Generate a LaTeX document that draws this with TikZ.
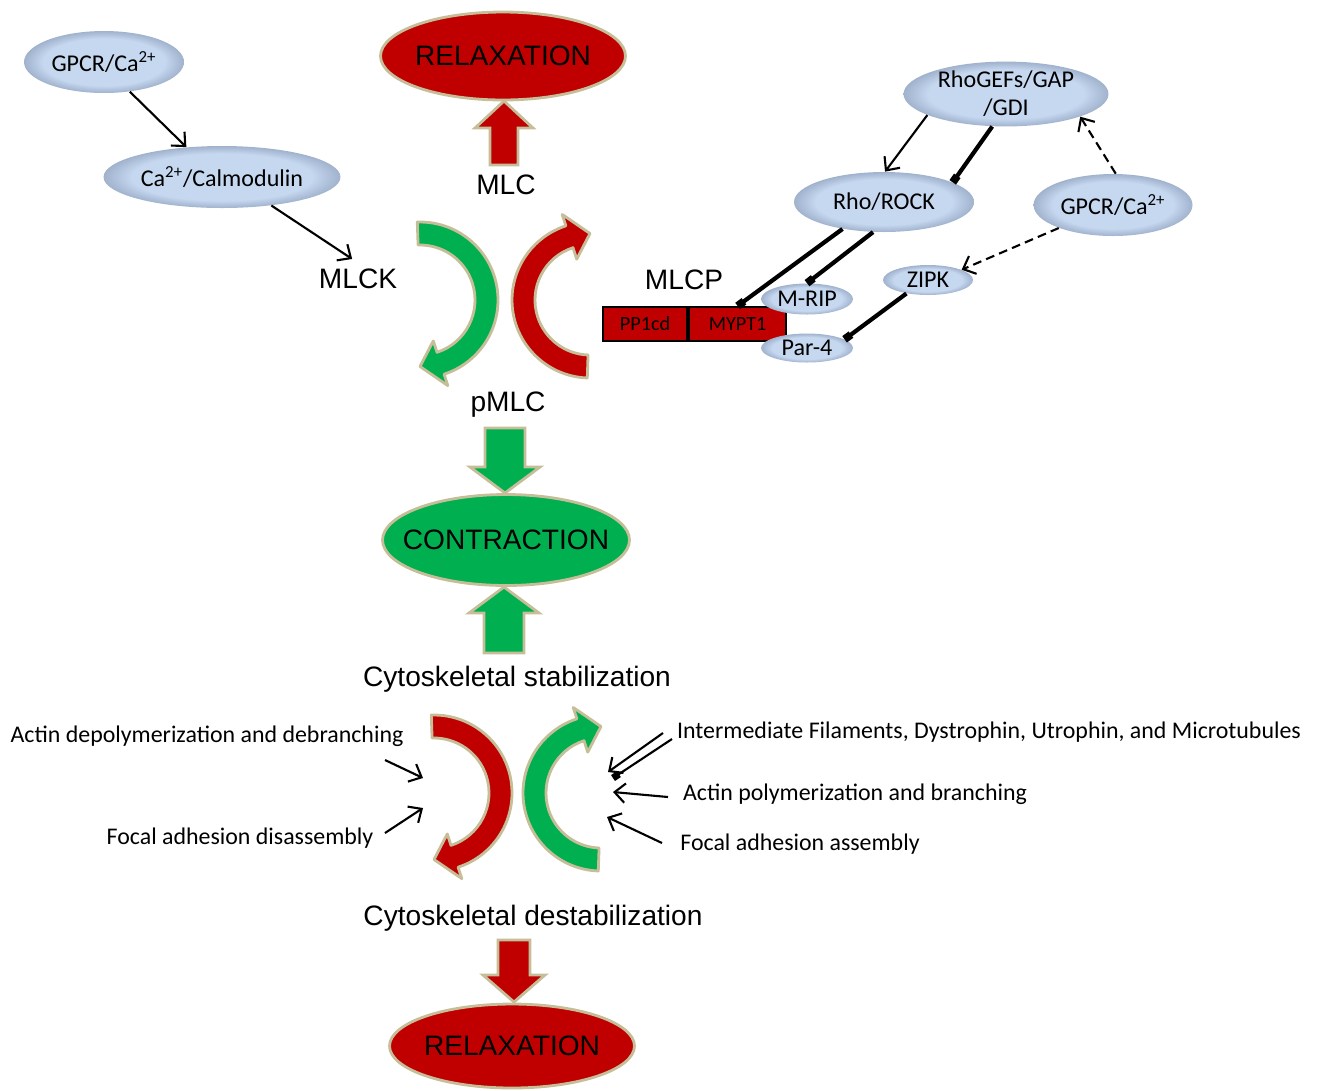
\documentclass[tikz,border=0pt]{standalone}
\usepackage{fontspec}
\usetikzlibrary{shapes.geometric,arrows.meta}
\newfontfamily\arialfont{Liberation Sans}
\newfontfamily\calfont{Carlito}
\definecolor{relax}{RGB}{192,0,0}
\definecolor{contract}{RGB}{0,176,80}
\definecolor{rim}{RGB}{198,190,153}
\definecolor{mol}{RGB}{198,216,240}
\definecolor{moledge}{RGB}{160,178,204}
\pgfdeclareradialshading{molshade}{\pgfpointorigin}{color(0bp)=(mol); color(19bp)=(mol); color(25bp)=(moledge); color(50bp)=(moledge)}
% curved block arrow: centre x, centre y, start angle, head angle, tip angle, colour
\newcommand{\curvedarrow}[6]{
  \filldraw[fill=#6, draw=rim, line width=1.6pt, line join=round]
    ([shift={(#1,#2)}]#3:78) arc[start angle=#3, end angle=#4, radius=78]
    -- ([shift={(#1,#2)}]#4:90) -- ([shift={(#1,#2)}]#5:66.5)
    -- ([shift={(#1,#2)}]#4:43) -- ([shift={(#1,#2)}]#4:55)
    arc[start angle=#4, end angle=#3, radius=55] -- cycle;
}
% straight block arrow: x, tail y, head base y, tip y, half shaft width, colour
\newcommand{\blockarrow}[6]{
  \filldraw[fill=#6, draw=rim, line width=1.6pt]
    ({#1-#5},#2) -- ({#1-#5},#3) -- ({#1-#5-15},#3) -- (#1,#4)
    -- ({#1+#5+15},#3) -- ({#1+#5},#3) -- ({#1+#5},#2) -- cycle;
}
\newcommand{\outcometext}[1]{\makebox[0pt]{#1}}

\begin{document}
\begin{tikzpicture}[x=0.02cm,y=0.02cm,
  outcome/.style={ellipse, draw=rim, line width=1.6pt, inner sep=0pt, font=\arialfont\fontsize{16}{18}\selectfont},
  mol/.style={ellipse, shade, shading=molshade, inner sep=0pt, align=center, font=\calfont\fontsize{13.7}{16}\selectfont},
  lbl/.style={font=\arialfont\fontsize{16}{18}\selectfont},
  note/.style={font=\calfont\fontsize{13.6}{16}\selectfont},
  subunit/.style={draw, fill=relax, line width=1.2pt, minimum height=0.68cm, inner sep=0pt, font=\calfont\fontsize{11.5}{13}\selectfont},
  act/.style={-{Straight Barb[length=6pt,width=11pt]}, line width=1.2pt},
  dashact/.style={act, dash pattern=on 5pt off 3pt},
  inhib/.style={-{Square[length=4.5pt,width=4.5pt]}, line width=2.4pt}]
\useasboundingbox (0,0) rectangle (1321,-1090);

% outcomes and the MLC cycle
\node[outcome, fill=relax, minimum width=4.9cm, minimum height=1.76cm] (relaxtop) at (503,-56) {\outcometext{RELAXATION}};
\node[outcome, fill=contract, minimum width=4.94cm, minimum height=1.82cm] (contraction) at (506,-540) {\outcometext{CONTRACTION}};
\node[outcome, fill=relax, minimum width=4.9cm, minimum height=1.68cm] (relaxbot) at (512,-1046) {\outcometext{RELAXATION}};
\blockarrow{504}{-165}{-128}{-101}{14}{relax}
\blockarrow{505}{-428}{-467}{-493}{20}{contract}
\blockarrow{504}{-653}{-613}{-587}{20}{contract}
\blockarrow{514}{-940}{-975}{-1002}{16}{relax}
\curvedarrow{420}{-300}{92}{-72}{-90}{contract}
\curvedarrow{590}{-300}{268}{108}{90}{relax}
\curvedarrow{434}{-793}{92}{-72}{-90}{relax}
\curvedarrow{601}{-793}{268}{108}{90}{contract}
\node[lbl] (mlc) at (506,-185) {MLC};
\node[lbl] (mlck) at (358,-279) {MLCK};
\node[lbl] (pmlc) at (508,-405) {pMLC};
\node[lbl] (mlcp) at (684,-280) {MLCP};
\node[lbl] (stab) at (517,-679) {Cytoskeletal stabilization};
\node[lbl] (destab) at (533,-918) {Cytoskeletal destabilization};

% kinase and phosphatase side
\node[mol, minimum width=3.2cm, minimum height=1.24cm] (gpcrL) at (104,-62) {GPCR/Ca\textsuperscript{2+}};
\node[mol, minimum width=4.74cm, minimum height=1.24cm] (calm) at (222,-177) {Ca\textsuperscript{2+}/Calmodulin};
\node[mol, minimum width=4.1cm, minimum height=1.2cm] (rhogef) at (1006,-94) {RhoGEFs/GAP\\/GDI};
\node[mol, minimum width=3.6cm, minimum height=1.2cm] (rho) at (884,-202) {Rho/ROCK};
\node[mol, minimum width=3.18cm, minimum height=1.24cm] (gpcrR) at (1113,-205) {GPCR/Ca\textsuperscript{2+}};
\node[mol, minimum width=1.8cm, minimum height=0.6cm] (zipk) at (928,-280) {ZIPK};
\node[subunit, minimum width=1.68cm] (pp1) at (645,-324) {PP1cd};
\node[subunit, minimum width=1.94cm, anchor=west] (mypt) at (pp1.east) {MYPT1};
\node[mol, minimum width=1.84cm, minimum height=0.62cm] (mrip) at (807,-299) {M-RIP};
\node[mol, minimum width=1.84cm, minimum height=0.58cm] (par4) at (807,-348) {Par-4};
\draw[act] (gpcrL.-49) -- (calm.140);
\draw[act, shorten >=4pt] (calm.-30) -- (mlck.north);
\draw[act] (rhogef.-165) -- (rho.88);
\draw[inhib] (rhogef.-113) -- (rho.16);
\draw[dashact] (gpcrR.85) -- (rhogef.-17);
\draw[dashact] (gpcrR.-157) -- (zipk.17);
\draw[inhib] (rho.-147) -- (mypt.north);
\draw[inhib] (rho.-110) -- (mrip.north);
\draw[inhib] (zipk.-148) -- (par4.13);

% cytoskeleton
\node[note] (actdep) at (207,-736) {Actin depolymerization and debranching};
\node[note] (fadis) at (240,-838) {Focal adhesion disassembly};
\node[note] (ifil) at (989,-732) {Intermediate Filaments, Dystrophin, Utrophin, and Microtubules};
\node[note] (actpol) at (855,-794) {Actin polymerization and branching};
\node[note] (faas) at (800,-844) {Focal adhesion assembly};
\coordinate (depout) at (385,-760); \coordinate (depin) at (423,-778);
\coordinate (disout) at (385,-833); \coordinate (disin) at (423,-808);
\coordinate (ifout) at (663,-733); \coordinate (ifin) at (608,-772);
\coordinate (polout) at (668,-797); \coordinate (polin) at (613,-792);
\coordinate (faout) at (662,-843); \coordinate (fain) at (607,-817);
\coordinate (ifout2) at (672,-739); \coordinate (ifstop) at (613,-778);
\foreach \a/\b in {depout/depin,disout/disin,ifout/ifin,polout/polin,faout/fain}
  \draw[act] (\a) -- (\b);
\draw[-{Square[length=4pt,width=4pt]}, line width=1.2pt] (ifout2) -- (ifstop);
\end{tikzpicture}
\end{document}
